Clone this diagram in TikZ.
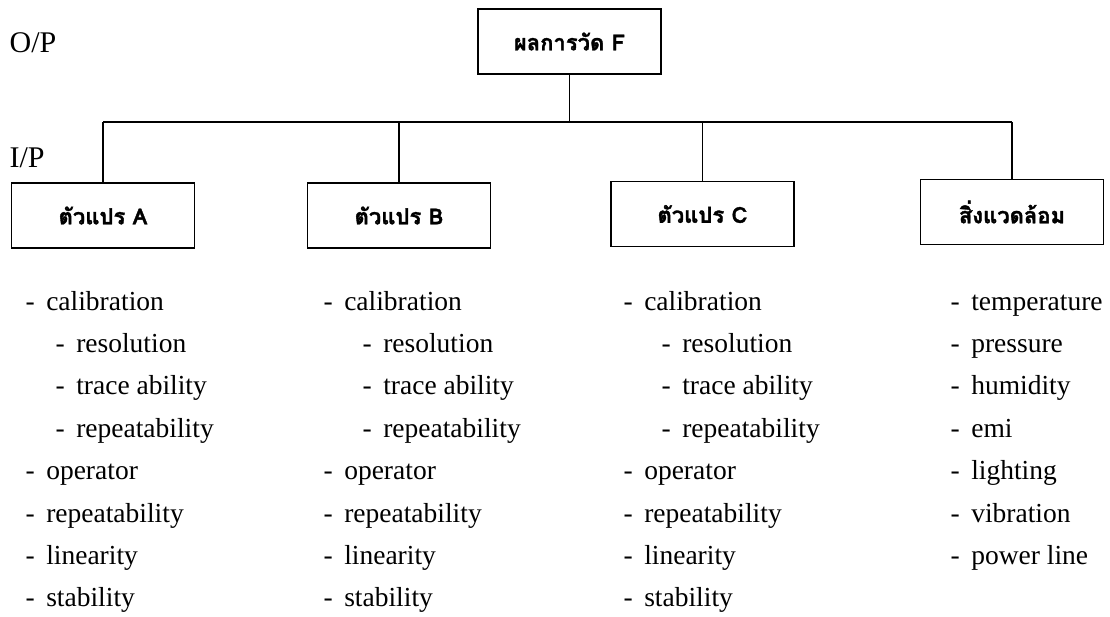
\documentclass[tikz,border=0pt]{standalone}
\usepackage{fontspec}
\setmainfont{Liberation Serif}
\newfontfamily\thaifont[Script=Thai, BoldFeatures={FakeBold=1.5}]{Loma}
\usetikzlibrary{positioning}

\tikzset{
  varbox/.style={draw, line width=1.2pt, minimum width=183pt, minimum height=65pt,
    font=\thaifont\bfseries\fontsize{22}{26}\selectfont},
  item/.style={anchor=base west, inner sep=0pt, font=\fontsize{27.5}{32}\selectfont},
  side/.style={anchor=base west, inner sep=0pt, font=\fontsize{30}{34}\selectfont},
}

\begin{document}
\begin{tikzpicture}[x=1pt, y=-1pt, line width=1.2pt] % pixel units, y down
            \useasboundingbox (0,0) rectangle (1110,617);

            % 1. Output and input boxes
            \node[varbox] (out) at (569.5, 41.5) {ผลการวัด F};
            \node[varbox] (varA) at (103, 215.5) {ตัวแปร A};
            \node[varbox] (varB) at (399, 215.5) {ตัวแปร B};
            \node[varbox] (varC) at (702.5, 214) {ตัวแปร C};
            \node[varbox] (env) at (1012, 212) {สิ่งแวดล้อม};

            % 2. Side labels
            \node[side] (op) at (9, 53) {O/P};
            \node[side] (ip) at (9, 168) {I/P};

            % 3. Tree of connectors
            \coordinate (bus) at (569.5, 122);
            \draw (out.south) -- (out.south |- bus);
            \draw (varA.north |- bus) -- (env.north |- bus);
            \foreach \n in {varA, varB, varC, env}
                \draw (\n.north |- bus) -- (\n.north);

            % 4. Factor lists under the variables
            \foreach \col/\x/\ind in {A/25/30, B/323/39, C/623/38} {
                \foreach \lvl/\txt [count=\i from 0] in {0/calibration, 1/resolution,
                        1/trace ability, 1/repeatability, 0/operator,
                        0/repeatability, 0/linearity, 0/stability}
                    \node[item] (item\col-\i) at (\x + \lvl*\ind, 310 + \i*42.4)
                        {-\hspace{0.42em}\txt};
            }

            % 5. Environment list
            \foreach \txt [count=\i from 0] in {temperature, pressure, humidity, emi,
                    lighting, vibration, power line}
                \node[item] (itemD-\i) at (950, 310 + \i*42.4) {-\hspace{0.42em}\txt};
        \end{tikzpicture}
\end{document}
